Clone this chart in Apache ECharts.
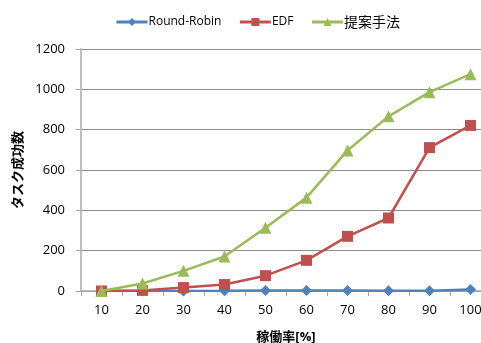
<!DOCTYPE html>
<html>
<head>
<meta charset="utf-8">
<script src="https://cdn.jsdelivr.net/npm/echarts@6/dist/echarts.min.js"></script>
<style>
  html, body { margin: 0; padding: 0; background: #fff; }
  #chart { width: 481px; height: 343px; }
</style>
</head>
<body>
<div id="chart"></div>
<script>
// Utilisation rate categories (%)
const categories = ['10', '20', '30', '40', '50', '60', '70', '80', '90', '100'];
// Number of successful tasks per scheduling method
const roundRobin = [0, 0, 0, 1, 3, 3, 3, 1, 1, 8];
const edf = [0, 3, 17, 32, 76, 152, 271, 362, 711, 821];
const proposed = [0, 37, 100, 171, 314, 463, 697, 866, 986, 1075];
const yTicks = { min: 0, max: 1200, interval: 200 };

const font = '"Open Sans", "Noto Sans CJK JP", sans-serif';
const cjkFont = '"Noto Sans CJK JP", sans-serif';
const chart = echarts.init(document.getElementById('chart'), null, { renderer: 'canvas' });

chart.setOption({
  animation: false,
  backgroundColor: '#ffffff',
  textStyle: { fontFamily: font },
  legend: {
    top: 10,
    left: 110,
    itemGap: 17,
    itemWidth: 31,
    itemHeight: 10,
    lineStyle: { width: 3 },
    textStyle: {
      fontSize: 12, color: '#000', fontFamily: font, padding: [0, 0, 0, -4],
      rich: { cjk: { fontSize: 14, fontFamily: cjkFont, color: '#000' } }
    },
    formatter: name => /[^\x00-\x7f]/.test(name) ? '{cjk|' + name + '}' : name,
    data: ['Round-Robin', 'EDF', '提案手法']
  },
  grid: { left: 81, right: -10, top: 49, bottom: 52, containLabel: false, outerBoundsMode: 'none' },
  xAxis: {
    type: 'category',
    data: categories,
    boundaryGap: true,
    name: '稼働率[%]',
    nameLocation: 'middle',
    nameGap: 40,
    nameTextStyle: { fontSize: 13, fontWeight: 'bold', color: '#000', fontFamily: font },
    axisLine: { lineStyle: { color: '#a6a6a6', width: 1.5 } },
    axisTick: { show: true, length: 5, alignWithLabel: false, lineStyle: { color: '#a6a6a6' } },
    axisLabel: { fontSize: 13, color: '#000', margin: 13, fontFamily: font },
    splitLine: { show: false }
  },
  yAxis: {
    type: 'value',
    min: yTicks.min,
    max: yTicks.max,
    interval: yTicks.interval,
    name: 'タスク成功数',
    nameLocation: 'middle',
    nameGap: 55,
    nameRotate: 90,
    nameTextStyle: { fontSize: 13, fontWeight: 'bold', color: '#000', fontFamily: font },
    axisLine: { show: true, lineStyle: { color: '#bfbfbf', width: 2 } },
    axisTick: { show: true, length: 5, lineStyle: { color: '#a6a6a6' } },
    axisLabel: { fontSize: 13, color: '#000', margin: 16, fontFamily: font, formatter: v => String(v) },
    splitLine: { show: true, lineStyle: { color: '#8c8c8c', width: 1 } }
  },
  series: [
    {
      name: 'Round-Robin',
      type: 'line',
      data: roundRobin,
      color: '#4f81bd',
      symbol: 'diamond',
      symbolSize: 11,
      lineStyle: { width: 2.5, color: '#4f81bd' },
      itemStyle: { color: '#4f81bd' },
      z: 2
    },
    {
      name: 'EDF',
      type: 'line',
      data: edf,
      color: '#c0504d',
      symbol: 'rect',
      symbolSize: 11,
      lineStyle: { width: 2.5, color: '#c0504d' },
      itemStyle: { color: '#c0504d' },
      z: 3
    },
    {
      name: '提案手法',
      type: 'line',
      data: proposed,
      color: '#9bbb59',
      symbol: 'triangle',
      symbolSize: 12,
      lineStyle: { width: 2.5, color: '#9bbb59' },
      itemStyle: { color: '#9bbb59' },
      z: 4
    }
  ]
});
</script>
</body>
</html>
